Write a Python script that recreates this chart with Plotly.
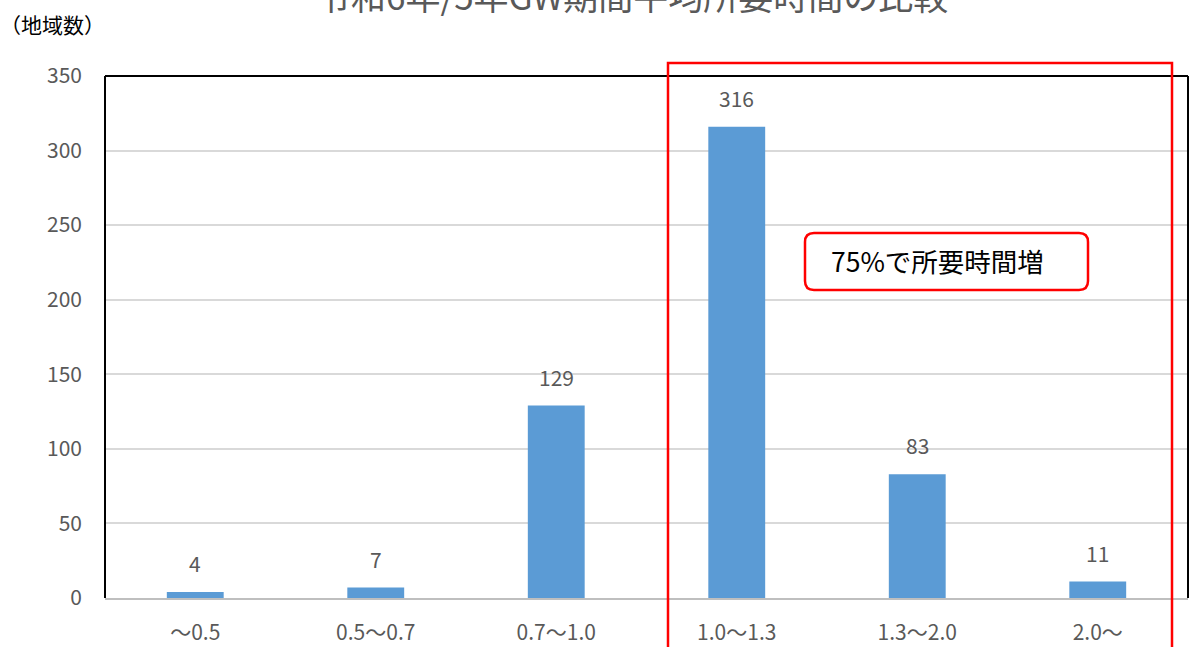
import plotly.graph_objects as go

categories = ["～0.5", "0.5～0.7", "0.7～1.0", "1.0～1.3", "1.3～2.0", "2.0～"]
counts = [4, 7, 129, 316, 83, 11]
y_ticks = [0, 50, 100, 150, 200, 250, 300, 350]

title_text = "令和6年/5年GW期間平均所要時間の比較"
y_title = "（地域数）"
callout_text = "75%で所要時間増"

FONT = "Noto Sans CJK JP, Noto Sans, sans-serif"
GRAY = "#595959"

W, H = 1189, 647
L, R, T, B = 105, 1, 76, 49
PW = W - L - R
PH = H - T - B

def px_x(x):
    return (x - L) / PW

def px_y(y):
    return (H - B - y) / PH

fig = go.Figure()
fig.add_trace(go.Bar(
    x=categories, y=counts,
    marker=dict(color="#5B9BD5", line=dict(width=0)),
    width=0.315,
    hoverinfo="x+y",
))

annotations = []
for c, v in zip(categories, counts):
    annotations.append(dict(
        x=c, y=v, xref="x", yref="y", text=str(v), showarrow=False,
        yanchor="bottom", yshift=12,
        font=dict(family=FONT, size=21, color=GRAY),
    ))

annotations.append(dict(
    x=px_x(632), y=px_y(22), xref="paper", yref="paper",
    text=title_text, showarrow=False, xanchor="center", yanchor="bottom",
    font=dict(family=FONT, size=35, color=GRAY),
))
annotations.append(dict(
    x=px_x(-2), y=px_y(24), xref="paper", yref="paper",
    text=y_title, showarrow=False, xanchor="left", yanchor="middle",
    font=dict(family=FONT, size=21, color="#000000"),
))
annotations.append(dict(
    x=px_x(937), y=px_y(260), xref="paper", yref="paper",
    text=callout_text, showarrow=False, xanchor="center", yanchor="middle",
    font=dict(family=FONT, size=26.5, color="#000000"),
))

# rounded callout box
x0, x1 = px_x(805), px_x(1088)
y0, y1 = px_y(290), px_y(233)
rx, ry = 9 / PW, 9 / PH
path = (f"M {x0+rx},{y0} L {x1-rx},{y0} Q {x1},{y0} {x1},{y0+ry} "
        f"L {x1},{y1-ry} Q {x1},{y1} {x1-rx},{y1} "
        f"L {x0+rx},{y1} Q {x0},{y1} {x0},{y1-ry} "
        f"L {x0},{y0+ry} Q {x0},{y0} {x0+rx},{y0} Z")

shapes = [
    dict(type="line", xref="paper", yref="paper", x0=0, x1=1, y0=1, y1=1,
         line=dict(color="black", width=2)),
    dict(type="line", xref="paper", yref="paper", x0=0, x1=0, y0=0, y1=1,
         line=dict(color="black", width=2)),
    dict(type="line", xref="paper", yref="paper", x0=1, x1=1, y0=0, y1=1,
         line=dict(color="black", width=2)),
    dict(type="rect", xref="paper", yref="paper",
         x0=px_x(668), x1=px_x(1172), y0=px_y(700), y1=px_y(63),
         line=dict(color="#FF0000", width=2.5), fillcolor="rgba(0,0,0,0)"),
    dict(type="path", xref="paper", yref="paper", path=path,
         line=dict(color="#FF0000", width=2.5), fillcolor="white"),
]

fig.update_layout(
    width=W, height=H,
    margin=dict(l=L, r=R, t=T, b=B, autoexpand=False),
    paper_bgcolor="white", plot_bgcolor="white",
    showlegend=False,
    annotations=annotations,
    shapes=shapes,
    font=dict(family=FONT, color=GRAY),
)
fig.update_xaxes(
    type="category", categoryorder="array", categoryarray=categories,
    showline=True, linecolor="#BFBFBF", linewidth=1.5,
    ticks="", tickfont=dict(family=FONT, size=21, color=GRAY),
    ticklabelstandoff=15, showgrid=False, automargin=False,
)
fig.update_yaxes(
    range=[0, 350], tickvals=y_ticks, showgrid=True, gridcolor="#D9D9D9",
    gridwidth=1.5, zeroline=False, showline=False, ticks="",
    tickfont=dict(family=FONT, size=21, color=GRAY), ticklabelstandoff=22,
    automargin=False,
)

fig.write_html(
    "out.html",
    config={"displayModeBar": False},
    post_script="document.body.style.margin='0';document.body.style.overflow='hidden';",
)
